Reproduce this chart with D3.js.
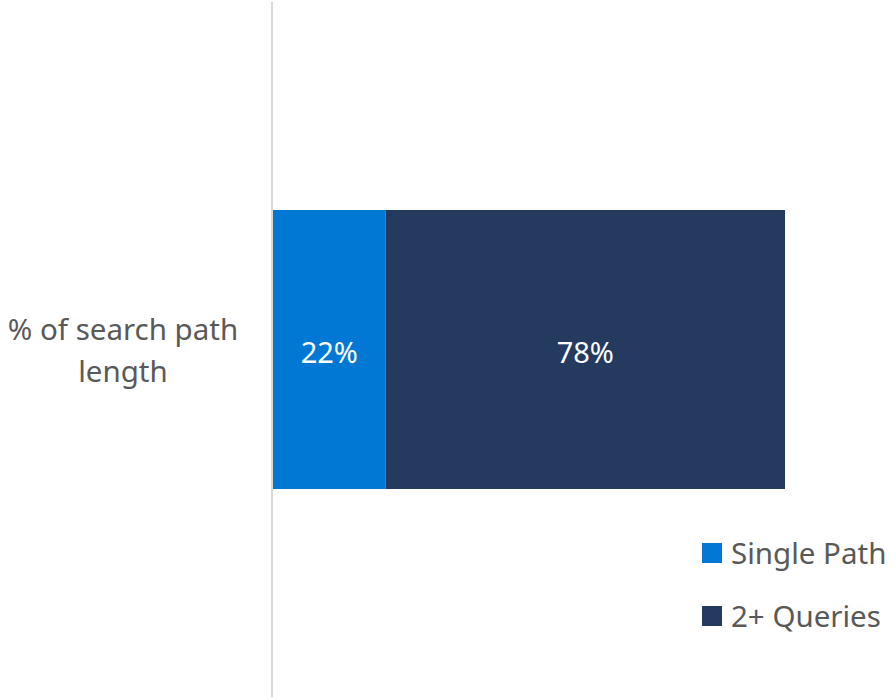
<!DOCTYPE html>
<html>
<head>
<meta charset="utf-8">
<script src="https://cdn.jsdelivr.net/npm/d3@7"></script>
<style>
  body { margin: 0; background: #fff; }
  svg text { font-family: "Noto Sans", "Open Sans", sans-serif; }
</style>
</head>
<body>
<svg id="chart" width="896" height="700"></svg>
<script>
/** data **/
var categories = ["% of search path length"];
var seriesNames = ["Single Path", "2+ Queries"];
var seriesValues = [0.22, 0.78];
var seriesColors = ["#0078d4", "#243a5e"];

var svg = d3.select("#chart");

var x = d3.scaleLinear().domain([0, 1]).range([273, 785]);
var y = d3.scaleBand().domain(categories).range([210, 489]).padding(0);

// stack the segments
var stacked = [];
var acc = 0;
for (var i = 0; i < seriesValues.length; i++) {
  stacked.push({ name: seriesNames[i], v: seriesValues[i], x0: acc, x1: acc + seriesValues[i], color: seriesColors[i] });
  acc += seriesValues[i];
}

var fmt = d3.format(".0%");

svg.selectAll("rect.seg")
  .data(stacked)
  .enter()
  .append("rect")
  .attr("class", "seg")
  .attr("x", function(d) { return x(d.x0); })
  .attr("width", function(d) { return x(d.x1) - x(d.x0); })
  .attr("y", y(categories[0]))
  .attr("height", y.bandwidth())
  .attr("fill", function(d) { return d.color; });

svg.selectAll("text.val")
  .data(stacked)
  .enter()
  .append("text")
  .attr("class", "val")
  .attr("x", function(d) { return (x(d.x0) + x(d.x1)) / 2; })
  .attr("y", y(categories[0]) + y.bandwidth() / 2 + 3)
  .attr("dy", "0.35em")
  .attr("text-anchor", "middle")
  .attr("fill", "#fff")
  .attr("font-size", "29px")
  .text(function(d) { return fmt(d.v); });

// category axis line
svg.append("line")
  .attr("x1", 272).attr("x2", 272)
  .attr("y1", 2).attr("y2", 697)
  .attr("stroke", "#d9d9d9")
  .attr("stroke-width", 2);

// category label, wrapped on two lines
var lab = svg.append("text")
  .attr("x", 123)
  .attr("text-anchor", "middle")
  .attr("fill", "#595959")
  .attr("font-size", "29.5px");
lab.append("tspan").attr("x", 123).attr("y", 340).text("% of search path");
lab.append("tspan").attr("x", 123).attr("y", 382).text("length");

// legend
var leg = svg.selectAll("g.leg")
  .data(stacked)
  .enter()
  .append("g")
  .attr("class", "leg")
  .attr("transform", function(d, i) { return "translate(702," + (543 + i * 63) + ")"; });
leg.append("rect")
  .attr("width", 20).attr("height", 20)
  .attr("fill", function(d) { return d.color; });
leg.append("text")
  .attr("x", 29)
  .attr("y", 21)
  .attr("fill", "#595959")
  .attr("font-size", "29.5px")
  .text(function(d) { return d.name; });
</script>
</body>
</html>
